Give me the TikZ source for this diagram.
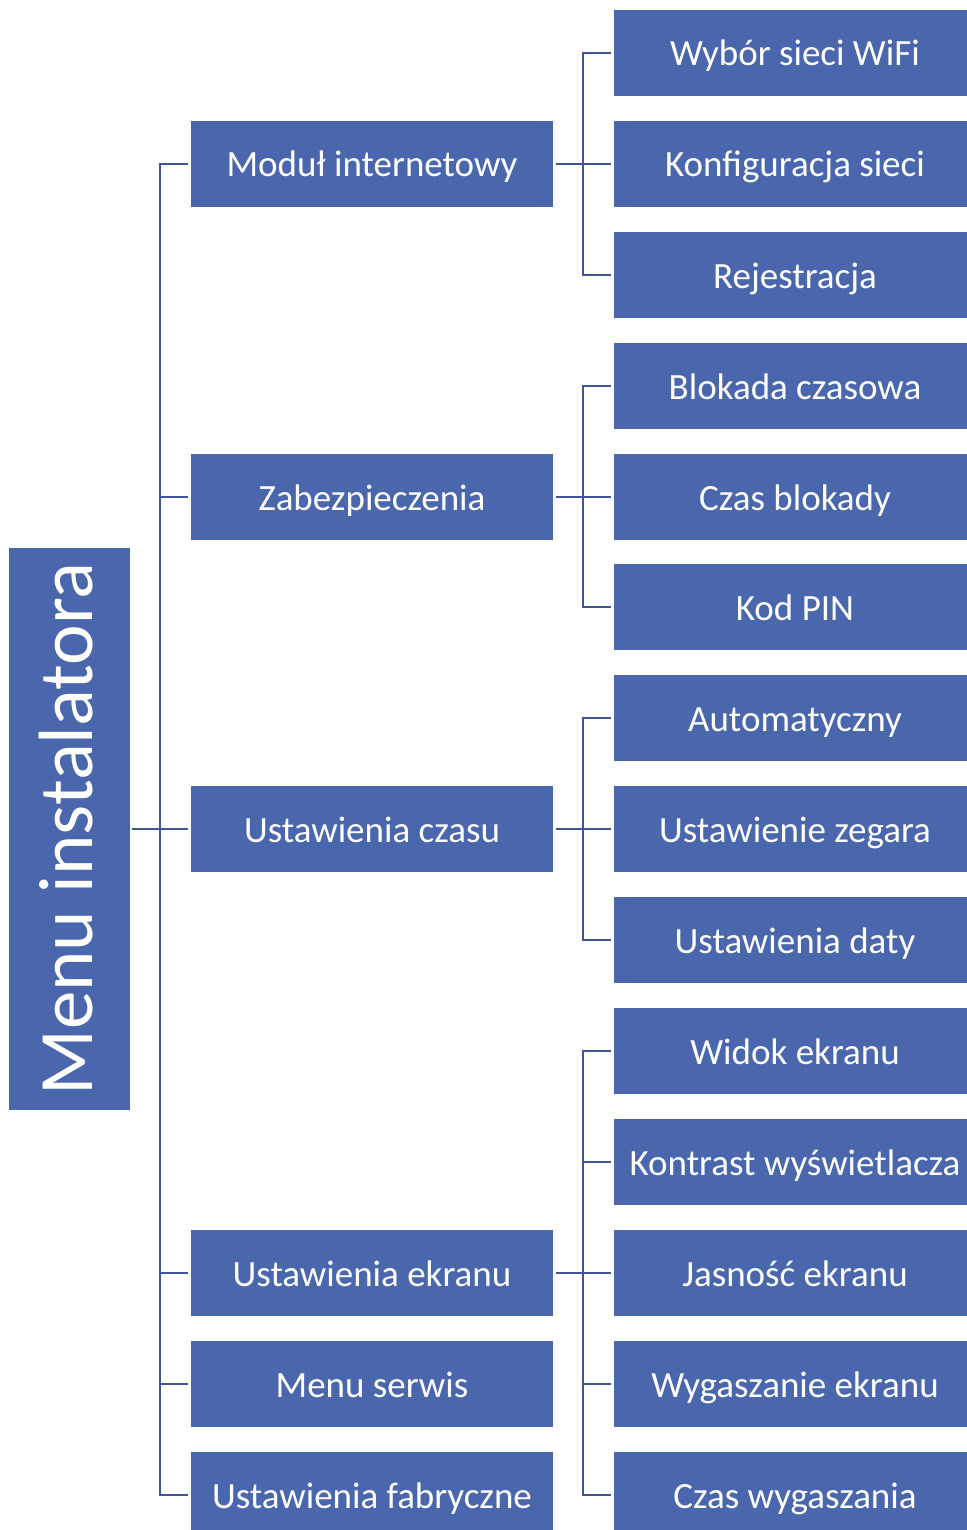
\documentclass[tikz,border=0pt]{standalone}
\usepackage{fontspec}
\setmainfont{Carlito}
\definecolor{boxblue}{HTML}{4A66AC}
\definecolor{lineblue}{HTML}{3F5597}
\begin{document}
\begin{tikzpicture}[x=1pt,y=-1pt,
  box/.style={fill=boxblue, text=white, minimum width=362pt, minimum height=86pt, inner sep=0pt, text height=34pt, text depth=8pt, font=\fontsize{37}{44}\selectfont},
  rootbox/.style={fill=boxblue, text=white, rotate=90, minimum width=562pt, minimum height=121pt, inner sep=0pt, text height=60pt, text depth=15pt, font=\fontsize{77}{90}\selectfont},
  conn/.style={draw=lineblue, line width=2.6pt}]
\useasboundingbox (0,0) rectangle (966,1530);
% root
\node[rootbox] (root) at (69.5,829) {Menu instalatora};
% level 1
\node[box] (m1) at (372,164) {Moduł internetowy};
\node[box] (m2) at (372,497) {Zabezpieczenia};
\node[box] (m3) at (372,829) {Ustawienia czasu};
\node[box] (m4) at (372,1273) {Ustawienia ekranu};
\node[box] (m5) at (372,1384) {Menu serwis};
\node[box] (m6) at (372,1495) {Ustawienia fabryczne};
% level 2
\node[box] (s1) at (795,53) {Wybór sieci WiFi};
\node[box] (s2) at (795,164) {Konfiguracja sieci};
\node[box] (s3) at (795,275) {Rejestracja};
\node[box] (s4) at (795,386) {Blokada czasowa};
\node[box] (s5) at (795,497) {Czas blokady};
\node[box] (s6) at (795,607) {Kod PIN};
\node[box] (s7) at (795,718) {Automatyczny};
\node[box] (s8) at (795,829) {Ustawienie zegara};
\node[box] (s9) at (795,940) {Ustawienia daty};
\node[box] (s10) at (795,1051) {Widok ekranu};
\node[box] (s11) at (795,1162) {Kontrast wyświetlacza};
\node[box] (s12) at (795,1273) {Jasność ekranu};
\node[box] (s13) at (795,1384) {Wygaszanie ekranu};
\node[box] (s14) at (795,1495) {Czas wygaszania};
% trunk
\coordinate (t) at (160,829);
\draw[conn] ([xshift=2pt]root.south) -- ([xshift=-3pt]m3.west);
\draw[conn] ([xshift=-3pt]m1.west) -| (t) |- ([xshift=-3pt]m6.west);
\draw[conn] (t |- m2.west) -- ([xshift=-3pt]m2.west);
\draw[conn] (t |- m4.west) -- ([xshift=-3pt]m4.west);
\draw[conn] (t |- m5.west) -- ([xshift=-3pt]m5.west);
% group 1
\coordinate (g1) at (583,164);
\draw[conn] ([xshift=-3pt]s1.west) -| (g1) |- ([xshift=-3pt]s3.west);
\draw[conn] ([xshift=3pt]m1.east) -- ([xshift=-3pt]s2.west);
% group 2
\coordinate (g2) at (583,497);
\draw[conn] ([xshift=-3pt]s4.west) -| (g2) |- ([xshift=-3pt]s6.west);
\draw[conn] ([xshift=3pt]m2.east) -- ([xshift=-3pt]s5.west);
% group 3
\coordinate (g3) at (583,829);
\draw[conn] ([xshift=-3pt]s7.west) -| (g3) |- ([xshift=-3pt]s9.west);
\draw[conn] ([xshift=3pt]m3.east) -- ([xshift=-3pt]s8.west);
% group 4
\coordinate (g4) at (583,1273);
\draw[conn] ([xshift=-3pt]s10.west) -| (g4) |- ([xshift=-3pt]s14.west);
\draw[conn] (g4 |- s11.west) -- ([xshift=-3pt]s11.west);
\draw[conn] (g4 |- s13.west) -- ([xshift=-3pt]s13.west);
\draw[conn] ([xshift=3pt]m4.east) -- ([xshift=-3pt]s12.west);
\end{tikzpicture}
\end{document}
